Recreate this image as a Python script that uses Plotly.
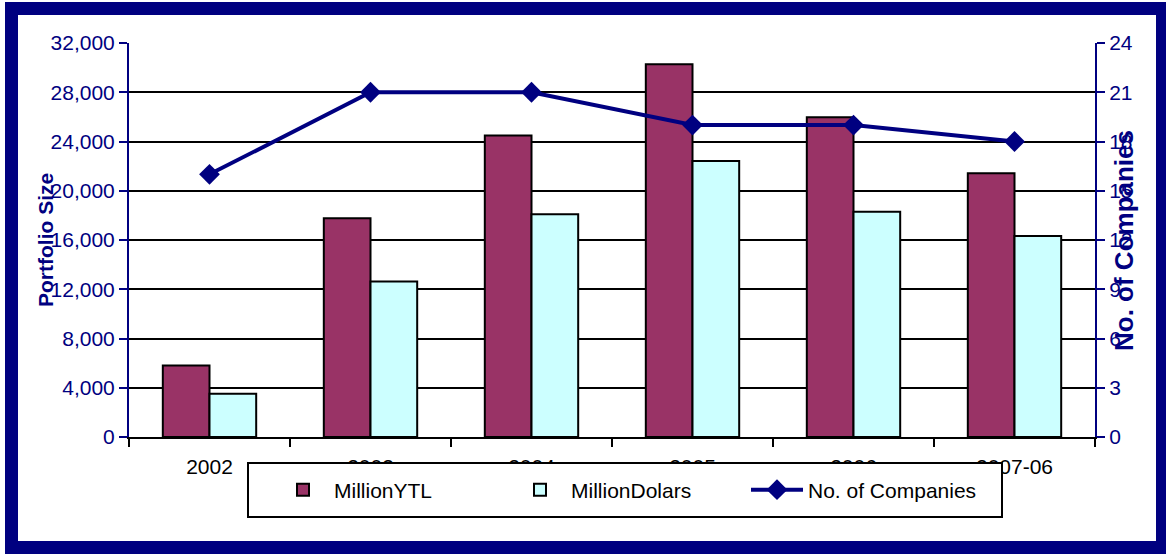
import plotly.graph_objects as go

categories = ["2002", "2003", "2004", "2005", "2006", "2007-06"]
million_ytl = [5800, 17760, 24480, 30280, 25970, 21420]
million_dollars = [3520, 12620, 18090, 22420, 18300, 16330]
companies = [16, 21, 21, 19, 19, 18]

left_ticks = list(range(0, 32001, 4000))
right_ticks = list(range(0, 25, 3))

NAVY = "#000080"
FONT = "Liberation Sans, Arial, sans-serif"

# plot area in pixels
L, R, T, B = 129, 1095, 43, 437
W, H = R - L, B - T
def px(x):
    return (x - L) / W
def py(y):
    return (B - y) / H

fig = go.Figure()
fig.add_trace(go.Bar(
    x=categories, y=million_ytl, name="MillionYTL",
    marker=dict(color="#993366", line=dict(color="black", width=2)),
))
fig.add_trace(go.Bar(
    x=categories, y=million_dollars, name="MillionDolars",
    marker=dict(color="#CCFFFF", line=dict(color="black", width=2)),
))
fig.add_trace(go.Scatter(
    x=categories, y=companies, name="No. of Companies", yaxis="y2",
    mode="lines+markers",
    line=dict(color=NAVY, width=4),
    marker=dict(symbol="diamond", size=16, color=NAVY),
))

fig.update_layout(
    width=1166, height=554,
    margin=dict(l=L, r=1166 - R, t=T, b=554 - B),
    paper_bgcolor="white", plot_bgcolor="white",
    font=dict(family=FONT, size=21, color="black"),
    barmode="group", bargap=0.42, bargroupgap=0,
    showlegend=True,
    legend=dict(
        orientation="h",
        x=px(272), y=py(490), xanchor="left", yanchor="middle",
        bgcolor="rgba(0,0,0,0)", borderwidth=0,
        font=dict(family=FONT, size=21, color="black"),
        entrywidth=170, itemwidth=52,
        traceorder="normal",
    ),
    xaxis=dict(
        type="category", showline=True, linecolor="black", linewidth=2,
        ticks="outside", tickson="boundaries", ticklen=8, tickwidth=2,
        tickcolor="black", showgrid=False, ticklabelstandoff=10,
        tickfont=dict(family=FONT, size=21, color="black"),
    ),
    yaxis=dict(
        range=[0, 32000], tickvals=left_ticks,
        ticktext=[f"{v:,}" for v in left_ticks],
        showline=True, linecolor=NAVY, linewidth=2,
        ticks="outside", ticklen=8, tickwidth=2, tickcolor=NAVY,
        showgrid=True, gridcolor="black", gridwidth=2, zeroline=False,
        tickfont=dict(family=FONT, size=21, color=NAVY),
    ),
    yaxis2=dict(
        range=[0, 24], tickvals=right_ticks, overlaying="y", side="right",
        showline=True, linecolor=NAVY, linewidth=2,
        ticks="outside", ticklen=8, tickwidth=2, tickcolor=NAVY,
        showgrid=False, zeroline=False,
        tickfont=dict(family=FONT, size=21, color=NAVY),
    ),
    annotations=[
        dict(text="<b>Portfolio Size</b>", xref="paper", yref="paper",
             x=px(45), y=py(240), textangle=-90, showarrow=False,
             xanchor="center", yanchor="middle",
             font=dict(family=FONT, size=21, color=NAVY)),
        dict(text="<b>No. of Companies</b>", xref="paper", yref="paper",
             x=px(1124), y=py(241), textangle=-90, showarrow=False,
             xanchor="center", yanchor="middle",
             font=dict(family=FONT, size=26, color=NAVY)),
    ],
    shapes=[
        # legend box
        dict(type="rect", xref="paper", yref="paper",
             x0=px(248), x1=px(1002), y0=py(517), y1=py(463),
             line=dict(color="black", width=2), fillcolor="white",
             layer="above"),
        # outer navy frame
        dict(type="rect", xref="paper", yref="paper",
             x0=px(11.5), x1=px(1162.5), y0=py(547.5), y1=py(8.5),
             line=dict(color=NAVY, width=13), fillcolor="rgba(0,0,0,0)",
             layer="above"),
    ],
)

fig.write_html("out.html", config={"displayModeBar": False},
               post_script="document.body.style.margin='0';")
